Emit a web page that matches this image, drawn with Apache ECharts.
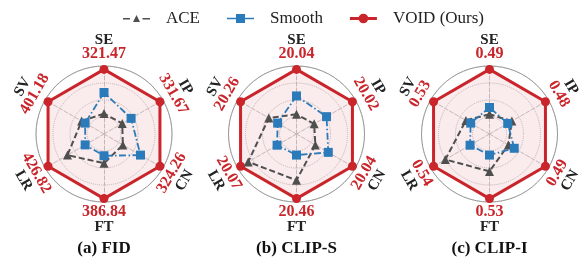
<!DOCTYPE html>
<html>
<head>
<meta charset="utf-8">
<script src="https://cdn.jsdelivr.net/npm/echarts@6/dist/echarts.min.js"></script>
<style>
  html, body { margin: 0; padding: 0; background: #fff; }
  #chart { width: 585px; height: 263px; }
</style>
</head>
<body>
<div id="chart"></div>
<script>
// axes in radar order (ECharts goes counter-clockwise from the top)
const axes = ['SE', 'SV', 'LR', 'FT', 'CN', 'IP'];
const panels = ['(a) FID', '(b) CLIP-S', '(c) CLIP-I'];

// numbers printed for VOID at each vertex
const voidLabels = [
  ['321.47', '401.18', '426.82', '386.84', '324.26', '331.67'],
  ['20.04', '20.26', '20.07', '20.46', '20.04', '20.02'],
  ['0.49', '0.53', '0.54', '0.53', '0.49', '0.48']
];

// normalised radii (outer circle = 1)
const aceVals = [
  [0.30, 0.38, 0.62, 0.43, 0.32, 0.31],
  [0.29, 0.47, 0.82, 0.68, 0.32, 0.30],
  [0.29, 0.40, 0.75, 0.55, 0.32, 0.38]
];
const smoothVals = [
  [0.61, 0.32, 0.32, 0.32, 0.62, 0.46],
  [0.56, 0.32, 0.33, 0.31, 0.54, 0.51],
  [0.39, 0.32, 0.33, 0.31, 0.42, 0.31]
];
const voidVals = [
  [0.95, 0.95, 0.95, 0.95, 0.95, 0.95],
  [0.95, 0.95, 0.95, 0.95, 0.95, 0.95],
  [0.95, 0.95, 0.95, 0.95, 0.95, 0.95]
];

const SERIF = '"Liberation Serif", "Times New Roman", serif';
const RED = '#c9252b';
const BLUE = '#2b7bbb';
const GRAY = '#4f4f4f';

const centersX = [104, 296.5, 489.5];
const CY = 134;
const R = 68;

// legend icons: little line + marker, drawn as filled paths in a 27x10 box
const anchors = 'M13.5,0 L13.51,0 L13.5,0.01 Z M13.5,10 L13.51,10 L13.5,9.99 Z ';
const ICON_ACE = 'path://' + anchors +
  'M0,4.4 L7,4.4 L7,6 L0,6 Z M10,8.6 L13.5,1.6 L17,8.6 Z M19.5,4.4 L27,4.4 L27,6 L19.5,6 Z';
const ICON_SMOOTH = 'path://' + anchors +
  'M0,4.2 L27,4.2 L27,5.8 L0,5.8 Z M9,0.6 L18,0.6 L18,9.4 L9,9.4 Z';
const ICON_VOID = 'path://' + anchors +
  'M0,3.6 L27,3.6 L27,6.4 L0,6.4 Z M8.7,5 A4.8,4.8 0 1,1 18.3,5 A4.8,4.8 0 1,1 8.7,5 Z';

const radars = [];
const series = [];
const graphics = [];

centersX.forEach((cx, k) => {
  const indicator = axes.map((n) => ({ name: n, min: 0, max: 1 }));
  // inner dotted rings + dashed spokes
  radars.push({
    center: [cx, CY], radius: R, startAngle: 90, shape: 'circle', splitNumber: 4,
    indicator, axisName: { show: false }, splitArea: { show: false },
    splitLine: { lineStyle: { color: '#c2c2c2', type: 'dotted', width: 1 } },
    axisLine: { lineStyle: { color: '#c6c6c6', type: 'dashed', width: 1 } }
  });
  // solid outer circle
  radars.push({
    center: [cx, CY], radius: R, startAngle: 90, shape: 'circle', splitNumber: 1,
    indicator, axisName: { show: false }, splitArea: { show: false },
    splitLine: { lineStyle: { color: '#9a9a9a', width: 1 } },
    axisLine: { show: false }
  });

  series.push({
    type: 'radar', radarIndex: 2 * k, name: 'VOID (Ours)', z: 2, silent: true,
    symbol: 'circle', symbolSize: 9,
    lineStyle: { color: RED, width: 3 }, itemStyle: { color: RED },
    areaStyle: { color: 'rgba(201,37,43,0.12)' },
    data: [{ value: voidVals[k] }]
  });
  series.push({
    type: 'radar', radarIndex: 2 * k, name: 'ACE', z: 3, silent: true,
    symbol: 'triangle', symbolSize: 9,
    lineStyle: { color: GRAY, width: 2, type: [6, 3] }, itemStyle: { color: GRAY },
    data: [{ value: aceVals[k] }]
  });
  series.push({
    type: 'radar', radarIndex: 2 * k, name: 'Smooth', z: 4, silent: true,
    symbol: 'rect', symbolSize: 9,
    lineStyle: { color: BLUE, width: 1.8, type: [7, 2.5, 1.5, 2.5] }, itemStyle: { color: BLUE },
    data: [{ value: smoothVals[k] }]
  });

  // rotated axis names + VOID values around each vertex
  axes.forEach((name, i) => {
    const a = (90 + 60 * i) * Math.PI / 180;
    const dx = Math.cos(a), dy = -Math.sin(a);
    const top = Math.sin(a) > 0;
    const rot = top ? a - Math.PI / 2 : a - 3 * Math.PI / 2;
    const rName = top ? 94 : 93;
    const rVal = top ? 80 : 78;
    graphics.push({
      type: 'text', x: cx + dx * rName, y: CY + dy * rName, rotation: rot,
      style: { text: name, fill: '#222', font: 'bold 15px ' + SERIF,
        textAlign: 'center', textVerticalAlign: 'middle', align: 'center', verticalAlign: 'middle' }
    });
    graphics.push({
      type: 'text', x: cx + dx * rVal, y: CY + dy * rVal, rotation: rot,
      style: { text: voidLabels[k][i], fill: RED, font: 'bold 16px ' + SERIF,
        textAlign: 'center', textVerticalAlign: 'middle', align: 'center', verticalAlign: 'middle' }
    });
  });

  graphics.push({
    type: 'text', x: cx, y: 249,
    style: { text: panels[k], fill: '#111', font: 'bold 17px ' + SERIF,
      textAlign: 'center', textVerticalAlign: 'middle', align: 'center', verticalAlign: 'middle' }
  });
});

const chart = echarts.init(document.getElementById('chart'));
chart.setOption({
  animation: false,
  backgroundColor: '#fff',
  legend: {
    data: [
      { name: 'ACE', icon: ICON_ACE },
      { name: 'Smooth', icon: ICON_SMOOTH },
      { name: 'VOID (Ours)', icon: ICON_VOID }
    ],
    left: 118, top: 5, itemWidth: 27, itemHeight: 10, itemGap: 27,
    selectedMode: false,
    itemStyle: { borderWidth: 0 },
    textStyle: { fontFamily: SERIF, fontSize: 17, color: '#222', padding: [0, 0, 0, 11] }
  },
  radar: radars,
  series,
  graphic: graphics
});
</script>
</body>
</html>
